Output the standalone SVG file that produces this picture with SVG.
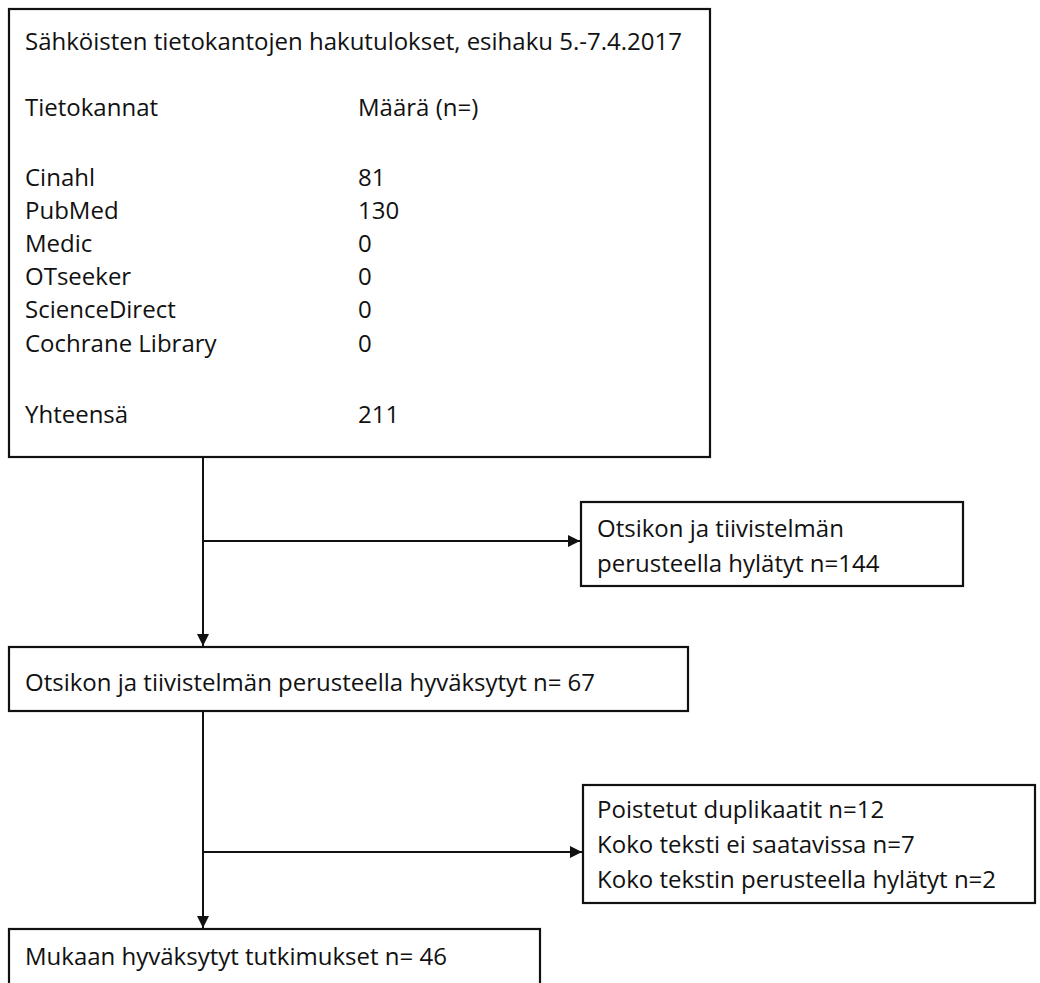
<svg xmlns="http://www.w3.org/2000/svg" width="1040" height="983" viewBox="0 0 1040 983">
<style>
.box{fill:#fff;stroke:#111;stroke-width:2.2}
.t{font-family:"Open Sans","Liberation Sans",sans-serif;font-size:24px;fill:#111}
.c{fill:none;stroke:#111;stroke-width:2}
</style>
<defs>
<marker id="ah" viewBox="0 0 12 12" refX="12" refY="6" markerWidth="12" markerHeight="12" markerUnits="userSpaceOnUse" orient="auto">
<path d="M0,0 L12,6 L0,12 z" fill="#111"/>
</marker>
</defs>
<rect width="1040" height="983" fill="#fff"/>
<g id="connectors">
<line class="c" x1="203" y1="457" x2="203" y2="646" marker-end="url(#ah)"/>
<line class="c" x1="203" y1="541" x2="580" y2="541" marker-end="url(#ah)"/>
<line class="c" x1="203" y1="711" x2="203" y2="928" marker-end="url(#ah)"/>
<line class="c" x1="203" y1="852" x2="582" y2="852" marker-end="url(#ah)"/>
</g>
<g id="search">
<rect class="box" x="9" y="9" width="701" height="448"/>
<text class="t" x="25" y="50">Sähköisten tietokantojen hakutulokset, esihaku 5.-7.4.2017</text>
<text class="t" x="25" y="116">Tietokannat</text>
<text class="t" x="358" y="116">Määrä (n=)</text>
<text class="t" x="25" y="186">Cinahl</text><text class="t" x="358" y="186">81</text>
<text class="t" x="25" y="219">PubMed</text><text class="t" x="358" y="219">130</text>
<text class="t" x="25" y="252">Medic</text><text class="t" x="358" y="252">0</text>
<text class="t" x="25" y="285">OTseeker</text><text class="t" x="358" y="285">0</text>
<text class="t" x="25" y="318">ScienceDirect</text><text class="t" x="358" y="318">0</text>
<text class="t" x="25" y="352">Cochrane Library</text><text class="t" x="358" y="352">0</text>
<text class="t" x="25" y="423">Yhteensä</text><text class="t" x="358" y="423">211</text>
</g>
<g id="rejected1">
<rect class="box" x="581" y="502" width="382" height="84"/>
<text class="t" x="597" y="537">Otsikon ja tiivistelmän</text>
<text class="t" x="597" y="572">perusteella hylätyt n=144</text>
</g>
<g id="accepted1">
<rect class="box" x="9" y="647" width="679" height="64"/>
<text class="t" x="25" y="691">Otsikon ja tiivistelmän perusteella hyväksytyt n= 67</text>
</g>
<g id="excluded">
<rect class="box" x="583" y="785" width="452" height="118"/>
<text class="t" x="597" y="818">Poistetut duplikaatit n=12</text>
<text class="t" x="597" y="853">Koko teksti ei saatavissa n=7</text>
<text class="t" x="597" y="888">Koko tekstin perusteella hylätyt n=2</text>
</g>
<g id="included">
<rect class="box" x="9" y="929" width="531" height="70"/>
<text class="t" x="25" y="965">Mukaan hyväksytyt tutkimukset n= 46</text>
</g>
</svg>
